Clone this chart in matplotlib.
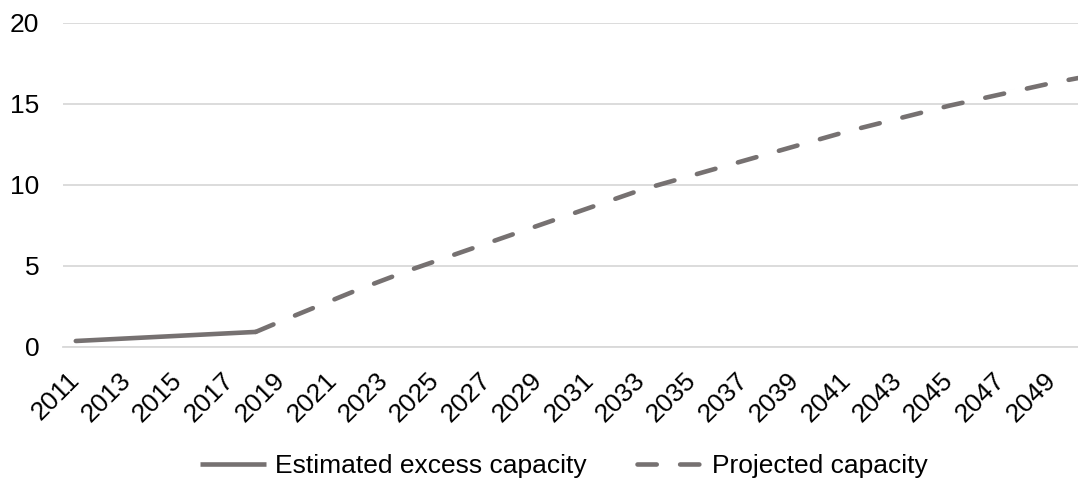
import numpy as np
import matplotlib
matplotlib.use("Agg")
import matplotlib.pyplot as plt
from matplotlib.lines import Line2D

plt.rcParams['font.family'] = ['Liberation Sans', 'DejaVu Sans']

# Daten
years = list(range(2011, 2051))
estimated_years = list(range(2011, 2019))
estimated = [0.37, 0.45, 0.53, 0.61, 0.69, 0.77, 0.85, 0.93]
projected_years = list(range(2018, 2051))
projected = [0.93, 1.6, 2.25, 2.9, 3.55, 4.15, 4.75, 5.3, 5.85, 6.4,
             6.95, 7.5, 8.05, 8.6, 9.15, 9.7, 10.15, 10.6, 11.05, 11.5,
             11.95, 12.4, 12.85, 13.3, 13.7, 14.1, 14.5, 14.9, 15.25, 15.6,
             15.95, 16.3, 16.6]
tick_labels = [str(y) for y in years[::2]]

line_color = '#767171'
grid_color = '#D9D9D9'
fs = 19
dash = (4.2, 5.1)

fig = plt.figure(figsize=(10.78, 4.79), dpi=100)
ax = fig.add_axes([0.0584, 0.2756, 1.012 - 0.0584, 0.952 - 0.2756])

x_est = [years.index(y) for y in estimated_years]
x_proj = [years.index(y) for y in projected_years]

ax.plot(x_est, estimated, color=line_color, lw=3.3, solid_capstyle='round',
        solid_joinstyle='round', zorder=3)
ax.plot(x_proj, projected, color=line_color, lw=3.3, dashes=dash,
        dash_capstyle='round', zorder=3)

ax.set_xlim(-0.5, len(years) - 0.5)
ax.set_ylim(0, 20)
ax.set_yticks([0, 5, 10, 15, 20])
ax.set_xticks(range(0, len(years), 2))
ax.set_xticklabels(tick_labels, rotation=45, ha='right', va='center',
                   rotation_mode='anchor')

ax.yaxis.grid(True, color=grid_color, lw=1.3)
ax.set_axisbelow(True)
for s in ['top', 'right', 'left']:
    ax.spines[s].set_visible(False)
ax.spines['bottom'].set_color(grid_color)
ax.spines['bottom'].set_linewidth(1.3)
ax.tick_params(axis='both', length=0, labelsize=fs, colors='#000000')
ax.tick_params(axis='y', pad=17)
ax.tick_params(axis='x', pad=21)

# Legende
handles = [
    Line2D([], [], color=line_color, lw=3.3, solid_capstyle='butt'),
    Line2D([], [], color=line_color, lw=3.3, dashes=dash,
           dash_capstyle='round'),
]
labels = ['Estimated excess capacity', 'Projected capacity']
fig.legend(handles, labels, loc='center', bbox_to_anchor=(0.523, 0.027),
           ncol=2, frameon=False, fontsize=fs, handlelength=2.5,
           handletextpad=0.35, columnspacing=1.9, borderaxespad=0)

fig.savefig('out.png', dpi=100)
